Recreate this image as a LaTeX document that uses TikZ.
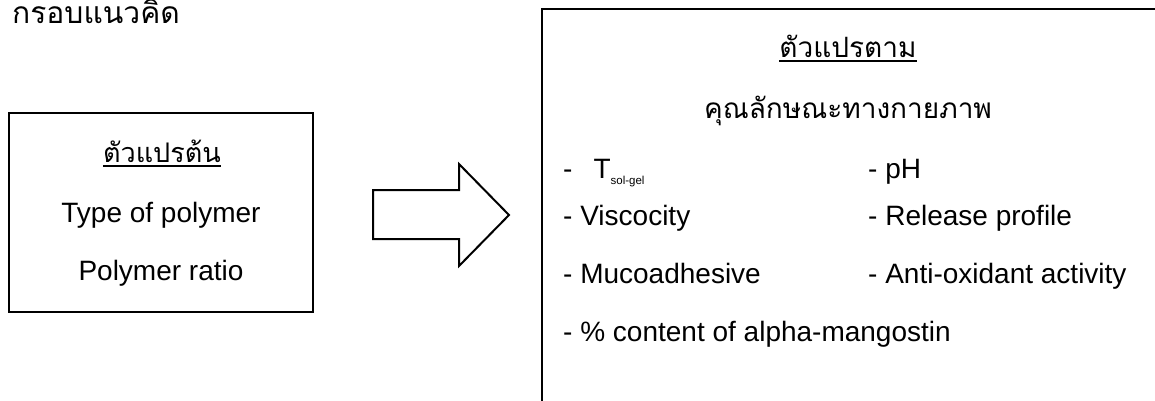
\documentclass[tikz,border=0pt]{standalone}
\usepackage{fontspec}
\setmainfont{Liberation Sans}
\newfontfamily\thaifont[Script=Thai]{Loma}

\begin{document}
\begin{tikzpicture}[x=1pt,y=-1pt,
  frame/.style={draw, line width=2.4pt},
  blockarrow/.style={draw, line width=2pt, line join=miter},
  entxt/.style={inner sep=0pt, anchor=base, font=\fontsize{28}{32}\selectfont},
  thtxt/.style={inner sep=0pt, anchor=base, font=\thaifont\fontsize{28}{32}\selectfont},
  itemtxt/.style={inner sep=0pt, anchor=base west, font=\fontsize{28}{32}\selectfont},
  uline/.style={line width=1.4pt}]
\useasboundingbox (0,0) rectangle (1155,400);
\clip (0,0) rectangle (1155,400);

% heading
\node[inner sep=0pt, anchor=base west, font=\thaifont\fontsize{30}{34}\selectfont] (title) at (12,23) {กรอบแนวคิด};

% independent variables
\node[frame, minimum width=304pt, minimum height=199pt] (indep) at (161,212.5) {};
\node[thtxt, font=\thaifont\fontsize{27}{31}\selectfont] (indeptitle) at (162,162) {ตัวแปรต้น};
\draw[uline] ([yshift=-4pt]indeptitle.base west) -- ([yshift=-4pt]indeptitle.base east);
\node[entxt] (type) at (161,222) {Type of polymer};
\node[entxt] (ratio) at (161,280) {Polymer ratio};

% dependent variables (box runs past the right and bottom edges)
\node[frame, anchor=north west, minimum width=700pt, minimum height=450pt] (dep) at (541,8) {};
\node[thtxt] (deptitle) at (848,57) {ตัวแปรตาม};
\draw[uline] ([yshift=-4pt]deptitle.base west) -- ([yshift=-4pt]deptitle.base east);
\node[thtxt] (phys) at (848,118) {คุณลักษณะทางกายภาพ};

\node[itemtxt] (tsg) at (563,178) {-\hspace{21pt}T\raisebox{-6pt}{\fontsize{11.5}{12}\selectfont sol-gel}};
\node[itemtxt] (ph) at (868,178) {- pH};
\node[itemtxt] (visc) at (563,225) {- Viscocity};
\node[itemtxt] (rel) at (868,225) {- Release profile};
\node[itemtxt] (muco) at (563,283) {- Mucoadhesive};
\node[itemtxt] (anti) at (868,283) {- Anti-oxidant activity};
\node[itemtxt] (cont) at (563,341) {- \% content of alpha-mangostin};

% block arrow from the independent box to the dependent box
\draw[blockarrow] (373,190) -- (459,190) -- (459,164) -- (509,215)
  -- (459,266) -- (459,239) -- (373,239) -- cycle;
\end{tikzpicture}
\end{document}
